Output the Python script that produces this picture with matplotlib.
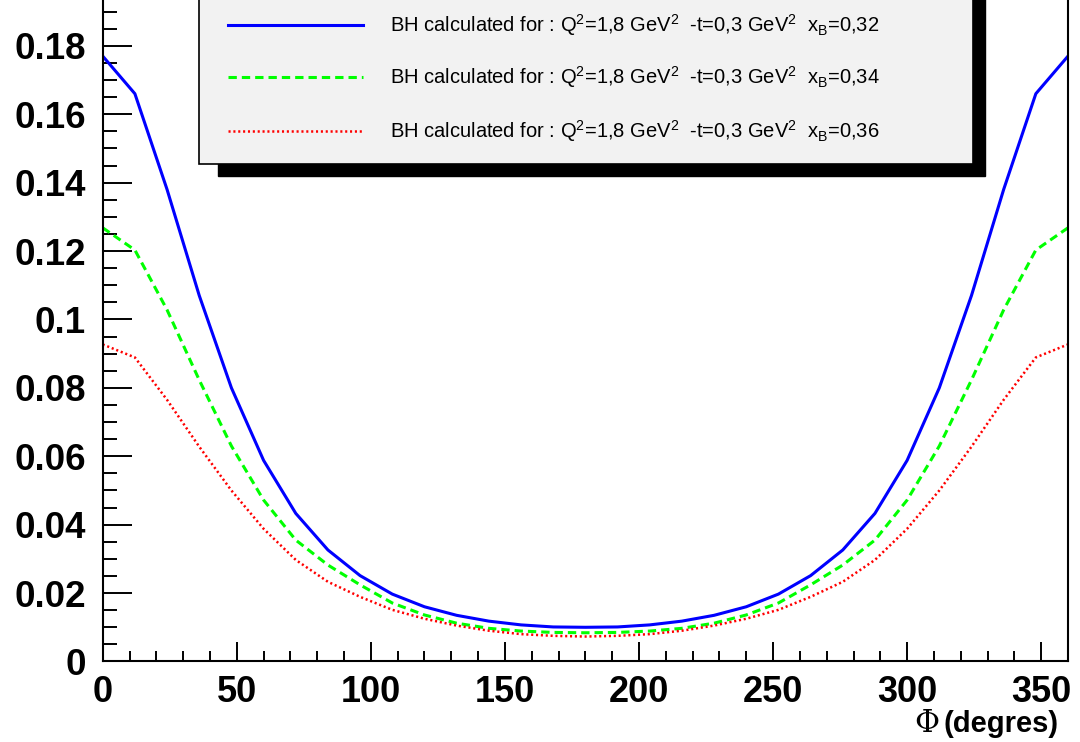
import numpy as np
import matplotlib.pyplot as plt
from matplotlib.patches import Rectangle
from matplotlib.lines import Line2D
from matplotlib.ticker import MultipleLocator, FixedLocator, FixedFormatter

plt.rcParams['font.family'] = ['Liberation Sans', 'DejaVu Sans']
plt.rcParams['mathtext.fontset'] = 'custom'
plt.rcParams['mathtext.rm'] = 'Liberation Sans'
plt.rcParams['mathtext.it'] = 'Liberation Sans'
plt.rcParams['lines.scale_dashes'] = False

# phi in degrees
phi = [0, 12, 24, 36, 48, 60, 72, 84, 96, 108, 120, 132, 144, 156, 168, 180,
       192, 204, 216, 228, 240, 252, 264, 276, 288, 300, 312, 324, 336, 348, 360]

bh_032 = [0.177, 0.166, 0.138, 0.107, 0.080, 0.0588, 0.0433, 0.0326, 0.0251, 0.0197,
          0.0160, 0.0135, 0.0118, 0.0107, 0.0101, 0.0100, 0.0101, 0.0107, 0.0118, 0.0135,
          0.0160, 0.0197, 0.0251, 0.0326, 0.0433, 0.0588, 0.080, 0.107, 0.138, 0.166, 0.177]
bh_034 = [0.1268, 0.1203, 0.1028, 0.0823, 0.0630, 0.0472, 0.0355, 0.0282, 0.0224, 0.0171,
          0.0136, 0.0112, 0.0097, 0.0089, 0.0085, 0.0084, 0.0085, 0.0089, 0.0097, 0.0112,
          0.0136, 0.0171, 0.0224, 0.0282, 0.0355, 0.0472, 0.0630, 0.0823, 0.1028, 0.1203, 0.1268]
bh_036 = [0.0927, 0.0889, 0.0765, 0.0628, 0.0500, 0.0388, 0.0297, 0.0233, 0.0189, 0.0151,
          0.0125, 0.0105, 0.0090, 0.0080, 0.0075, 0.0073, 0.0075, 0.0080, 0.0090, 0.0105,
          0.0125, 0.0151, 0.0189, 0.0233, 0.0297, 0.0388, 0.0500, 0.0628, 0.0765, 0.0889, 0.0927]

labels = [
    "BH calculated for : Q$^{2}$=1,8 GeV$^{2}$  -t=0,3 GeV$^{2}$  x$_{B}$=0,32",
    "BH calculated for : Q$^{2}$=1,8 GeV$^{2}$  -t=0,3 GeV$^{2}$  x$_{B}$=0,34",
    "BH calculated for : Q$^{2}$=1,8 GeV$^{2}$  -t=0,3 GeV$^{2}$  x$_{B}$=0,36",
]

y_ticks = [0, 0.02, 0.04, 0.06, 0.08, 0.1, 0.12, 0.14, 0.16, 0.18]
y_ticklabels = ["0", "0.02", "0.04", "0.06", "0.08", "0.1", "0.12", "0.14", "0.16", "0.18"]

styles = [
    dict(color="#0000ff", lw=2.2, ls="-"),
    dict(color="#00ff00", lw=2.2, ls=(0, (6, 3.6))),
    dict(color="#ff0000", lw=1.8, ls=(0, (1.5, 2.0))),
]

fig = plt.figure(figsize=(10.8, 7.42), dpi=100)
ax = fig.add_axes([0.0951, 0.1085, 0.8938, 0.8915])

for ys, st in zip([bh_032, bh_034, bh_036], styles):
    ax.plot(phi, ys, **st)

ax.set_xlim(0, 360)
ax.set_ylim(0, 0.1934)

ax.spines['top'].set_visible(False)
for s in ['left', 'bottom', 'right']:
    ax.spines[s].set_linewidth(1.5)

ax.xaxis.set_major_locator(MultipleLocator(50))
ax.xaxis.set_minor_locator(MultipleLocator(10))
ax.yaxis.set_major_locator(FixedLocator(y_ticks))
ax.yaxis.set_major_formatter(FixedFormatter(y_ticklabels))
ax.yaxis.set_minor_locator(MultipleLocator(0.005))

ax.tick_params(axis='x', which='major', direction='in', length=14, width=1.4,
               labelsize=26, pad=10)
ax.tick_params(axis='x', which='minor', direction='in', length=7, width=1.4)
ax.tick_params(axis='y', which='major', direction='in', length=21, width=1.4,
               labelsize=26.5, pad=12)
ax.tick_params(axis='y', which='minor', direction='in', length=10, width=1.4)
for lab in ax.get_xticklabels() + ax.get_yticklabels():
    lab.set_fontweight('bold')

# axis title
fig.text(0.8580, 0.0135, "\u03a6", fontsize=22, family='DejaVu Serif',
         ha='center', va='baseline')
fig.text(0.8735, 0.0135, "(degres)", fontsize=21, fontweight='bold',
         ha='left', va='baseline')

# legend box with shadow
fig.patches.append(Rectangle((0.2019, 0.7628), 0.7101, 0.4, transform=fig.transFigure,
                             facecolor='black', edgecolor='black', zorder=5))
fig.patches.append(Rectangle((0.1843, 0.779), 0.7166, 0.4, transform=fig.transFigure,
                             facecolor='#f2f2f2', edgecolor='black', lw=1.2, zorder=6))
rows = [0.9663, 0.8962, 0.8235]
for yy, st, lab in zip(rows, styles, labels):
    fig.lines.append(Line2D([0.2111, 0.3361], [yy, yy], transform=fig.transFigure,
                            zorder=7, **st))
    fig.text(0.3611, yy, lab, fontsize=14.5, ha='left', va='center', zorder=8)

fig.savefig("out.png", dpi=100)
